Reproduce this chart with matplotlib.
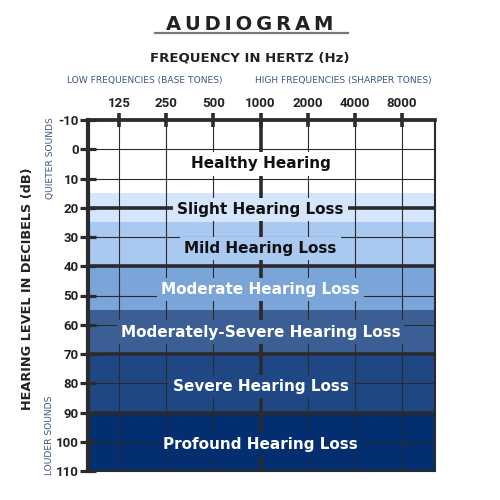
import numpy as np
import matplotlib.pyplot as plt

plt.rcParams['axes.unicode_minus'] = False

# audiogram frame data
freqs = [125, 250, 500, 1000, 2000, 4000, 8000]
freq_labels = ['125', '250', '500', '1000', '2000', '4000', '8000']
db_ticks = list(range(-10, 111, 10))
thick_db = [20, 40, 70, 90]

band_names = ['Healthy Hearing', 'Slight Hearing Loss', 'Mild Hearing Loss',
              'Moderate Hearing Loss', 'Moderately-Severe Hearing Loss',
              'Severe Hearing Loss', 'Profound Hearing Loss']
band_lo = [-10, 15, 25, 40, 55, 70, 90]
band_hi = [15, 25, 40, 55, 70, 90, 110]
band_label_db = [5, 20.5, 34, 48, 62.5, 81, 101]
band_colors = ['#ffffff', '#d5e5fb', '#a9c9f1', '#7ba4d9', '#3b5e94', '#1f4784', '#032e6f']
text_colors = ['#111111', '#111111', '#111111', 'white', 'white', 'white', 'white']

frame = '#2b2b2e'
blue_gray = '#3d5a80'

fig = plt.figure(figsize=(5, 5), dpi=100)
ax = fig.add_axes([0.176, 0.058, 0.694, 0.702])

for lo, hi, c in zip(band_lo, band_hi, band_colors):
    ax.axhspan(lo, hi, color=c, zorder=0, lw=0)

for f in freqs:
    ax.axvline(f, color=frame, lw=2.6 if f == 1000 else 0.8, zorder=1)
for d in db_ticks[1:-1]:
    ax.axhline(d, color=frame, lw=2.6 if d in thick_db else 0.8, zorder=1)

for name, y, bc, tc in zip(band_names, band_label_db, band_colors, text_colors):
    ax.text(1000, y, name, ha='center', va='center', fontsize=11, fontweight='bold',
            color=tc, zorder=3,
            bbox=dict(facecolor=bc, edgecolor='none', pad=3))

ax.set_xscale('log', base=2)
ax.set_xlim(79.2, 13000)
ax.set_ylim(110, -10)
ax.set_xticks(freqs)
ax.set_xticklabels(freq_labels)
ax.minorticks_off()
ax.set_yticks(db_ticks)
ax.set_yticklabels([str(d) for d in db_ticks])
ax.xaxis.tick_top()

for lab in ax.get_xticklabels() + ax.get_yticklabels():
    lab.set_fontfamily(['Roboto', 'DejaVu Sans'])
    lab.set_fontweight('bold')
    lab.set_fontsize(9.5)
    lab.set_color('#222222')

ax.tick_params(axis='x', direction='inout', length=10, width=2.6, color=frame, pad=2.5)
ax.tick_params(axis='y', direction='inout', length=11, width=2.3, color=frame, pad=1)

for side, w in [('left', 3), ('top', 2.7), ('right', 1.5), ('bottom', 1.5)]:
    ax.spines[side].set_linewidth(w)
    ax.spines[side].set_color(frame)
    ax.spines[side].set_zorder(4)

# titles and annotations
fig.text(0.5, 0.94, '\u2009'.join('AUDIOGRAM'), ha='center', va='baseline', fontsize=14,
         fontweight='heavy', color='#222222')
fig.add_artist(plt.Line2D([0.31, 0.696], [0.934, 0.934], color='#777777', lw=1.6))
fig.text(0.5, 0.884, 'FREQUENCY IN HERTZ (Hz)', ha='center', va='center',
         fontsize=9.5, fontweight='bold', color='#222222')
fig.text(0.29, 0.84, 'LOW FREQUENCIES (BASE TONES)', ha='center', va='center',
         fontsize=6.6, color=blue_gray)
fig.text(0.686, 0.84, 'HIGH FREQUENCIES (SHARPER TONES)', ha='center', va='center',
         fontsize=6.6, color=blue_gray)
fig.text(0.056, 0.422, 'HEARING LEVEL IN DECIBELS (dB)', rotation=90, ha='center',
         va='center', fontsize=9.3, fontweight='bold', color='#222222')
fig.text(0.1, 0.684, 'QUIETER SOUNDS', rotation=90, ha='center', va='center',
         fontsize=6.6, color=blue_gray)
fig.text(0.1, 0.13, 'LOUDER SOUNDS', rotation=90, ha='center', va='center',
         fontsize=6.6, color=blue_gray)

fig.savefig('out.png', dpi=100)
